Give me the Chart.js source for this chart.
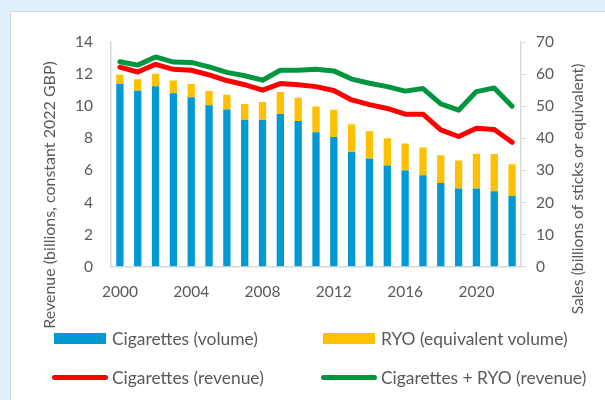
<!DOCTYPE html>
<html>
<head>
<meta charset="utf-8">
<script src="https://cdn.jsdelivr.net/npm/chart.js@4"></script>
<style>
  body { margin: 0; width: 605px; height: 400px; background: #e0f1fb; overflow: hidden; font-family: Lato, sans-serif; }
  #panel { position: absolute; left: 10px; top: 11px; width: 600px; height: 395px; background: #fff; border: 1px solid #d3dadf; }
  #chart { position: absolute; left: 0; top: 0; }
  .leg { position: absolute; color: #595959; font-size: 17.4px; display: flex; align-items: center; white-space: nowrap; }
  .sw { display: inline-block; margin-right: 6px; }
</style>
</head>
<body>
<div id="panel"></div>
<canvas id="chart" width="605" height="400"></canvas>
<div id="legend"></div>
<script>
const years = ['2000','2001','2002','2003','2004','2005','2006','2007','2008','2009','2010','2011',
               '2012','2013','2014','2015','2016','2017','2018','2019','2020','2021','2022'];

// sales, billions of sticks (right axis)
const cigVolume = [56.9, 54.8, 56.2, 54.0, 52.8, 50.3, 49.0, 45.8, 45.8, 47.6, 45.4, 41.9,
                   40.4, 35.8, 33.7, 31.5, 30.0, 28.5, 26.1, 24.4, 24.4, 23.5, 22.0];
const ryoVolume = [2.9, 3.6, 3.9, 4.0, 4.1, 4.4, 4.6, 4.9, 5.5, 6.8, 7.2, 8.0,
                   8.5, 8.6, 8.5, 8.5, 8.4, 8.6, 8.6, 8.7, 10.8, 11.6, 9.9];

// revenue, billions constant 2022 GBP (left axis)
const cigRevenue = [12.43, 12.13, 12.61, 12.30, 12.24, 11.95, 11.60, 11.34, 11.00, 11.41, 11.34, 11.22,
                    10.98, 10.39, 10.10, 9.86, 9.50, 9.50, 8.53, 8.11, 8.63, 8.55, 7.75];
const totalRevenue = [12.77, 12.56, 13.07, 12.75, 12.73, 12.45, 12.11, 11.90, 11.62, 12.24, 12.24, 12.30,
                      12.20, 11.69, 11.43, 11.22, 10.94, 11.10, 10.14, 9.75, 10.91, 11.14, 10.00];

const leftTitle = 'Revenue (billions, constant 2022 GBP)';
const rightTitle = 'Sales (billions of sticks or equivalent)';

const textColor = '#595959';
const axisColor = '#d9d9d9';
const font = { family: 'Lato, sans-serif', size: 15.5 };

// axis titles sit a bit lower than the plot centre, like the original
function drawTitle(ctx, text, x, y, size) {
    ctx.save();
    ctx.fillStyle = textColor;
    ctx.font = size + 'px Lato, sans-serif';
    ctx.textAlign = 'center';
    ctx.textBaseline = 'middle';
    ctx.translate(x, y);
    ctx.rotate(-Math.PI / 2);
    ctx.fillText(text, 0, 0);
    ctx.restore();
}

const axisTitles = {
    id: 'axisTitles',
    afterDraw(chart) {
        drawTitle(chart.ctx, leftTitle, 50, 195, 16);
        drawTitle(chart.ctx, rightTitle, 578, 189, 15.7);
    }
};

const chart = new Chart(document.getElementById('chart'), {
    type: 'bar',
    data: {
        labels: years,
        datasets: [
            { label: 'Cigarettes (volume)', data: cigVolume, yAxisID: 'y1', stack: 'vol',
              backgroundColor: '#0099d3', barPercentage: 0.41, categoryPercentage: 1, order: 3 },
            { label: 'RYO (equivalent volume)', data: ryoVolume, yAxisID: 'y1', stack: 'vol',
              backgroundColor: '#ffc000', barPercentage: 0.41, categoryPercentage: 1, order: 3 },
            { type: 'line', label: 'Cigarettes (revenue)', data: cigRevenue, yAxisID: 'y',
              borderColor: '#ff0000', backgroundColor: '#ff0000', borderWidth: 5, pointRadius: 0,
              tension: 0, borderJoinStyle: 'round', borderCapStyle: 'round', order: 1 },
            { type: 'line', label: 'Cigarettes + RYO (revenue)', data: totalRevenue, yAxisID: 'y',
              borderColor: '#00963f', backgroundColor: '#00963f', borderWidth: 5, pointRadius: 0,
              tension: 0, borderJoinStyle: 'round', borderCapStyle: 'round', order: 2 }
        ]
    },
    options: {
        responsive: false,
        animation: false,
        layout: { padding: { top: 42, left: 0, right: 0, bottom: 0 } },
        plugins: { legend: { display: false }, tooltip: { enabled: false } },
        scales: {
            x: {
                stacked: true,
                grid: { display: false, drawTicks: false },
                border: { display: true, color: axisColor, width: 1.5 },
                ticks: {
                    color: textColor, font: font, padding: 16, autoSkip: false, maxRotation: 0,
                    callback: (v, i) => i % 4 === 0 ? years[i] : ''
                },
                afterFit: s => { s.height = 133.3; }
            },
            y: {
                position: 'left', min: 0, max: 14,
                grid: { display: false, drawTicks: false },
                border: { display: true, color: axisColor, width: 1.5 },
                ticks: { stepSize: 2, color: textColor, font: font, padding: 18 },
                afterFit: s => { s.width = 111; }
            },
            y1: {
                position: 'right', min: 0, max: 70, stacked: true,
                grid: { display: true, drawOnChartArea: false, drawTicks: true, tickLength: 5, color: axisColor },
                border: { display: true, color: axisColor, width: 1.5 },
                ticks: { stepSize: 10, color: textColor, font: font, padding: 10 },
                afterFit: s => { s.width = 84; }
            }
        }
    },
    plugins: [axisTitles]
});

// 2x2 legend built from the chart's datasets
const legendSpots = [
    { left: 54, top: 338 }, { left: 323, top: 338 },
    { left: 52, top: 377 }, { left: 321, top: 377 }
];
const legendEl = document.getElementById('legend');
chart.data.datasets.forEach((ds, i) => {
    const item = document.createElement('div');
    item.className = 'leg';
    item.style.left = legendSpots[i].left + 'px';
    item.style.top = (legendSpots[i].top - 12) + 'px';
    item.style.height = '24px';
    const sw = document.createElement('span');
    sw.className = 'sw';
    if (ds.type === 'line') {
        sw.style.width = '56px';
        sw.style.height = '5px';
        sw.style.borderRadius = '3px';
        sw.style.background = ds.borderColor;
        sw.style.marginRight = '4px';
    } else {
        sw.style.width = '52px';
        sw.style.height = '11px';
        sw.style.background = ds.backgroundColor;
    }
    item.appendChild(sw);
    item.appendChild(document.createTextNode(ds.label));
    legendEl.appendChild(item);
});
</script>
</body>
</html>
